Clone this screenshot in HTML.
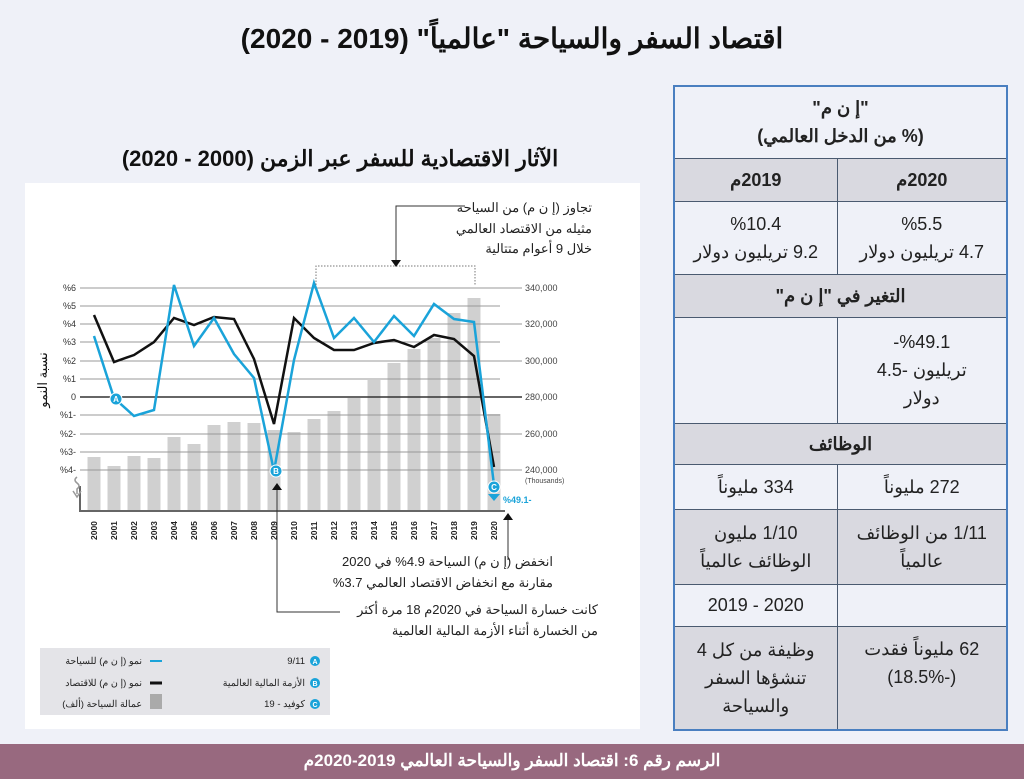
<!DOCTYPE html>
<html><head><meta charset="utf-8">
<style>
body{margin:0;width:1024px;height:779px;background:#eff1f8;position:relative;overflow:hidden;font-family:"Liberation Sans","Noto Sans CJK SC",sans-serif;}
.title{position:absolute;top:22px;left:0;width:1024px;text-align:center;font-weight:bold;font-size:28px;color:#111;direction:rtl;}
.foot{position:absolute;left:0;top:744px;width:1024px;height:35px;background:#98697f;color:#fff;font-weight:bold;font-size:17px;text-align:center;line-height:33px;direction:rtl;}
table{position:absolute;left:673px;top:85px;width:335px;height:645px;border-collapse:collapse;border:2px solid #4a7fc0;direction:rtl;font-size:18px;color:#222;}
td{border:1.5px solid #4a5a70;text-align:center;padding:0 4px;line-height:28px;}
.g{background:#d9d9e0;}.l{background:#eff1f8;}
.b{font-weight:bold;}
</style></head><body>
<div class="title">اقتصاد السفر والسياحة "عالمياً" (2019 - 2020)</div>
<svg style="position:absolute;left:0;top:0" width="660" height="740" font-family="Liberation Sans, Noto Sans CJK SC, sans-serif">
<text x="340" y="166" text-anchor="middle" font-size="22" font-weight="bold" fill="#111">الآثار الاقتصادية للسفر عبر الزمن (2000 - 2020)</text>
<rect x="25" y="183" width="615" height="546" fill="#fff"/>
<g fill="#d0d0d0">
<rect x="87.5" y="457" width="13" height="54"/><rect x="107.5" y="466" width="13" height="45"/><rect x="127.5" y="456" width="13" height="55"/><rect x="147.5" y="458" width="13" height="53"/><rect x="167.5" y="437" width="13" height="74"/><rect x="187.5" y="444" width="13" height="67"/><rect x="207.5" y="425" width="13" height="86"/><rect x="227.5" y="422" width="13" height="89"/><rect x="247.5" y="423" width="13" height="88"/><rect x="267.5" y="430" width="13" height="81"/><rect x="287.5" y="432" width="13" height="79"/><rect x="307.5" y="419" width="13" height="92"/><rect x="327.5" y="411" width="13" height="100"/><rect x="347.5" y="398" width="13" height="113"/><rect x="367.5" y="380" width="13" height="131"/><rect x="387.5" y="363" width="13" height="148"/><rect x="407.5" y="349" width="13" height="162"/><rect x="427.5" y="338" width="13" height="173"/><rect x="447.5" y="313" width="13" height="198"/><rect x="467.5" y="298" width="13" height="213"/><rect x="487.5" y="414" width="13" height="97"/>
</g>
<g stroke="#999" stroke-width="1">
<line x1="80" y1="288" x2="522" y2="288"/><line x1="80" y1="306" x2="500" y2="306"/><line x1="80" y1="324" x2="522" y2="324"/><line x1="80" y1="342" x2="500" y2="342"/><line x1="80" y1="361" x2="522" y2="361"/><line x1="80" y1="379" x2="500" y2="379"/><line x1="80" y1="415" x2="500" y2="415"/><line x1="80" y1="434" x2="522" y2="434"/><line x1="80" y1="452" x2="500" y2="452"/><line x1="80" y1="470" x2="522" y2="470"/>
</g>
<line x1="80" y1="397" x2="522" y2="397" stroke="#333" stroke-width="1.5"/>
<path d="M80 486 V511 H505" stroke="#666" stroke-width="2" fill="none"/>
<g font-size="9" fill="#333" text-anchor="end">
<text x="76" y="291">%6</text><text x="76" y="309">%5</text><text x="76" y="327">%4</text><text x="76" y="345">%3</text><text x="76" y="364">%2</text><text x="76" y="382">%1</text><text x="76" y="400">0</text><text x="76" y="418">%1-</text><text x="76" y="437">%2-</text><text x="76" y="455">%3-</text><text x="76" y="473">%4-</text>
</g>
<g font-size="9" fill="#444">
<text x="525" y="291">340,000</text><text x="525" y="327">320,000</text><text x="525" y="364">300,000</text><text x="525" y="400">280,000</text><text x="525" y="437">260,000</text><text x="525" y="473">240,000</text><text x="525" y="483" font-size="7">(Thousands)</text>
</g>
<text transform="translate(47,380) rotate(-90)" font-size="13" text-anchor="middle" fill="#111">نسبة النمو</text>
<path d="M77 477 q-4 3 0 6 q4 3 0 6 v5 M73 491 l4 6 l4 -6" stroke="#999" fill="none" stroke-width="1.5"/>
<g font-size="8.5" font-weight="bold" fill="#222">
<text transform="translate(97,540) rotate(-90)">2000</text><text transform="translate(117,540) rotate(-90)">2001</text><text transform="translate(137,540) rotate(-90)">2002</text><text transform="translate(157,540) rotate(-90)">2003</text><text transform="translate(177,540) rotate(-90)">2004</text><text transform="translate(197,540) rotate(-90)">2005</text><text transform="translate(217,540) rotate(-90)">2006</text><text transform="translate(237,540) rotate(-90)">2007</text><text transform="translate(257,540) rotate(-90)">2008</text><text transform="translate(277,540) rotate(-90)">2009</text><text transform="translate(297,540) rotate(-90)">2010</text><text transform="translate(317,540) rotate(-90)">2011</text><text transform="translate(337,540) rotate(-90)">2012</text><text transform="translate(357,540) rotate(-90)">2013</text><text transform="translate(377,540) rotate(-90)">2014</text><text transform="translate(397,540) rotate(-90)">2015</text><text transform="translate(417,540) rotate(-90)">2016</text><text transform="translate(437,540) rotate(-90)">2017</text><text transform="translate(457,540) rotate(-90)">2018</text><text transform="translate(477,540) rotate(-90)">2019</text><text transform="translate(497,540) rotate(-90)">2020</text>
</g>
<polyline fill="none" stroke="#111" stroke-width="2.5" points="94,315 114,362 134,355 154,342 174,318 194,325 214,317 234,319 254,359 274,424 294,318 314,338 334,350 354,350 374,343 394,340 414,347 434,335 454,339 474,356 494,467"/>
<polyline fill="none" stroke="#1aa3d9" stroke-width="2.5" points="94,336 114,398 134,416 154,410 174,285 194,346 214,318 234,354 254,378 274,471 294,360 314,283 334,338 354,318 374,342 394,316 414,336 434,304 454,319 474,322 494,485"/>
<g font-size="8" font-weight="bold" fill="#fff" text-anchor="middle">
<circle cx="116" cy="399" r="6" fill="#1aa3d9" stroke="#fff"/><text x="116" y="402">A</text>
<circle cx="276" cy="471" r="6" fill="#1aa3d9" stroke="#fff"/><text x="276" y="474">B</text>
<circle cx="494" cy="487" r="6" fill="#1aa3d9" stroke="#fff"/><text x="494" y="490">C</text>
</g>
<path d="M488 494 h12 l-6 7z" fill="#1aa3d9"/>
<text x="503" y="503" font-size="9" font-weight="bold" fill="#1aa3d9">%49.1-</text>
<path d="M316 285 V266 H475 V285" stroke="#777" stroke-dasharray="1.5,1.5" fill="none"/>
<path d="M465 206 H396 V262" stroke="#333" fill="none"/><path d="M391 260 h10 l-5 7z" fill="#111"/>
<g font-size="13" fill="#222" text-anchor="start" direction="rtl">
<text x="592" y="212">تجاوز (إ ن م) من السياحة</text>
<text x="592" y="233">مثيله من الاقتصاد العالمي</text>
<text x="592" y="253">خلال 9 أعوام متتالية</text>
<text x="553" y="566">انخفض (إ ن م) السياحة 4.9% في 2020</text>
<text x="553" y="587">مقارنة مع انخفاض الاقتصاد العالمي 3.7%</text>
<text x="598" y="614">كانت خسارة السياحة في 2020م 18 مرة أكثر</text>
<text x="598" y="635">من الخسارة أثناء الأزمة المالية العالمية</text>
</g>
<path d="M508 560 V518" stroke="#333"/><path d="M503 520 h10 l-5 -7z" fill="#111"/>
<path d="M340 612 H277 V488" stroke="#333" fill="none"/><path d="M272 490 h10 l-5 -7z" fill="#111"/>
<rect x="40" y="648" width="290" height="67" fill="#e4e4e8"/>
<g font-size="9.5" fill="#222" text-anchor="start" direction="rtl">
<text x="305" y="664">9/11</text><text x="305" y="686">الأزمة المالية العالمية</text><text x="305" y="707">كوفيد - 19</text>
<text x="142" y="664">نمو (إ ن م) للسياحة</text><text x="142" y="686">نمو (إ ن م) للاقتصاد</text><text x="142" y="707">عمالة السياحة (ألف)</text>
</g>
<g font-size="7" font-weight="bold" fill="#fff" text-anchor="middle">
<circle cx="315" cy="661" r="5" fill="#1aa3d9"/><text x="315" y="664">A</text>
<circle cx="315" cy="683" r="5" fill="#1aa3d9"/><text x="315" y="686">B</text>
<circle cx="315" cy="704" r="5" fill="#1aa3d9"/><text x="315" y="707">C</text>
</g>
<line x1="150" y1="661" x2="162" y2="661" stroke="#1aa3d9" stroke-width="2"/>
<line x1="150" y1="683" x2="162" y2="683" stroke="#111" stroke-width="3"/>
<rect x="150" y="694" width="12" height="15" fill="#aaa"/>
</svg>
<table>
<tr style="height:72px"><td colspan="2" class="l b">"إ ن م"<br>(% من الدخل العالمي)</td></tr>
<tr style="height:43px"><td class="g b">2020م</td><td class="g b">2019م</td></tr>
<tr style="height:73px"><td class="l">%5.5<br>4.7 تريليون دولار</td><td class="l">%10.4<br>9.2 تريليون دولار</td></tr>
<tr style="height:43px"><td colspan="2" class="g b">التغير في "إ ن م"</td></tr>
<tr style="height:106px"><td class="l">%49.1-<br>تريليون -4.5<br>دولار</td><td class="l"></td></tr>
<tr style="height:41px"><td colspan="2" class="g b">الوظائف</td></tr>
<tr style="height:45px"><td class="l">272 مليوناً</td><td class="l">334 مليوناً</td></tr>
<tr style="height:75px"><td class="g">1/11 من الوظائف<br>عالمياً</td><td class="g">1/10 مليون<br>الوظائف عالمياً</td></tr>
<tr style="height:42px"><td class="l"></td><td class="l">2020 - 2019</td></tr>
<tr style="height:104px"><td class="g" style="vertical-align:top;padding-top:8px">62 مليوناً فقدت<br>(-18.5%)</td><td class="g">وظيفة من كل 4<br>تنشؤها السفر<br>والسياحة</td></tr>
</table>
<div class="foot">الرسم رقم 6: اقتصاد السفر والسياحة العالمي 2019-2020م</div>
</body></html>
